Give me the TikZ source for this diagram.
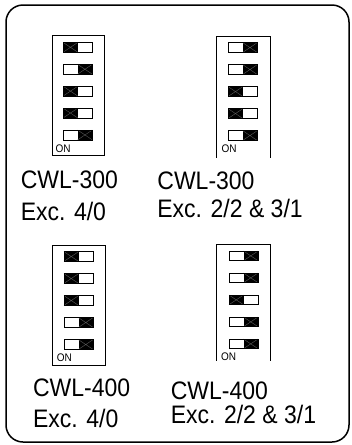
\documentclass[tikz,border=0pt]{standalone}
\usepackage{fontspec}
\setmainfont{Liberation Sans}
\usepackage{tikz}
\usetikzlibrary{positioning}
\usepackage{xcolor}
\definecolor{crossgray}{rgb}{0.35, 0.35, 0.35}

\begin{document}
\begin{tikzpicture}[
		x=1pt, y=-1pt,
		frame/.style={draw, line width=1.5pt, rounded corners=17pt},
		dipbox/.style={draw, line width=0.8pt, minimum width=52.5pt, minimum height=120pt, inner sep=0pt, anchor=north west},
		openbox/.style={dipbox, draw=none},
		knob/.style={fill=black},
		cross/.style={draw=crossgray, line width=0.4pt},
		slot/.style={draw=black, line width=0.6pt},
		lbl/.style={font=\fontsize{23}{28}\selectfont, anchor=base west, inner sep=0pt, yscale=1.1, transform shape},
		onlbl/.style={font=\fontsize{10}{10}\selectfont, anchor=base west, inner sep=0pt, yscale=1.1, transform shape}
	]
	\useasboundingbox (0,0) rectangle (352,445);
	\draw[frame] (6,5) rectangle (349,442);

	% CWL-300, Exc. 4/0
	\node[dipbox] (tl) at (51.7,35) {};
	\node[onlbl] (tlon) at ([xshift=3.6pt, yshift=3.4pt]tl.south west) {ON};
	\begin{scope}[shift={(tl.north west)}]
		\foreach \k [count=\i from 0] in {0,1,0,0,1} {
			\fill[knob] (11.5+14.5*\k, 7.5+21.9*\i) rectangle ++(14.5,9.7);
			\draw[cross] (11.5+14.5*\k, 7.5+21.9*\i) -- ++(14.5,9.7) ++(-14.5,0) -- ++(14.5,-9.7);
			\draw[slot] (11.5, 7.5+21.9*\i) rectangle ++(29,9.7);
		}
	\end{scope}
	\node[lbl] (tlmodel) at (20.6,188.3) {CWL-300};
	\node[lbl] (tlexc) at (20.6,220) {Exc. 4/0};

	% CWL-300, Exc. 2/2 & 3/1
	\node[openbox, minimum height=120.7pt] (tr) at (216.7,36) {};
	\draw[line width=0.8pt] (tr.south west) -- (tr.north west) -- (tr.north east) -- (tr.south east);
	\node[onlbl] (tron) at ([xshift=4.8pt, yshift=5pt]tr.south west) {ON};
	\begin{scope}[shift={(tr.north west)}]
		\foreach \k [count=\i from 0] in {1,1,0,0,1} {
			\fill[knob] (11.5+14.5*\k, 6.7+22*\i) rectangle ++(14.5,9.7);
			\draw[cross] (11.5+14.5*\k, 6.7+22*\i) -- ++(14.5,9.7) ++(-14.5,0) -- ++(14.5,-9.7);
			\draw[slot] (11.5, 6.7+22*\i) rectangle ++(29,9.7);
		}
	\end{scope}
	\node[lbl] (trmodel) at (157.2,189.5) {CWL-300};
	\node[lbl] (trexc) at (157.2,217) {Exc. 2/2 \& 3/1};

	% CWL-400, Exc. 4/0
	\node[dipbox] (bl) at (52.3,245) {};
	\node[onlbl] (blon) at ([xshift=4.3pt, yshift=4.3pt]bl.south west) {ON};
	\begin{scope}[shift={(bl.north west)}]
		\foreach \k [count=\i from 0] in {0,0,0,1,1} {
			\fill[knob] (11.7+14.5*\k, 6.7+22*\i) rectangle ++(14.5,9.7);
			\draw[cross] (11.7+14.5*\k, 6.7+22*\i) -- ++(14.5,9.7) ++(-14.5,0) -- ++(14.5,-9.7);
			\draw[slot] (11.7, 6.7+22*\i) rectangle ++(29,9.7);
		}
	\end{scope}
	\node[lbl] (blmodel) at (32.9,396.7) {CWL-400};
	\node[lbl] (blexc) at (32.9,427) {Exc. 4/0};

	% CWL-400, Exc. 2/2 & 3/1
	\node[openbox, minimum height=116pt] (br) at (216.7,244) {};
	\draw[line width=0.8pt] (br.south west) -- (br.north west) -- (br.north east) -- (br.south east);
	\node[onlbl] (bron) at ([xshift=4.3pt, yshift=0.5pt]br.south west) {ON};
	\begin{scope}[shift={(br.north west)}]
		\foreach \k [count=\i from 0] in {1,1,0,1,1} {
			\fill[knob] (12.3+14.5*\k, 7+22*\i) rectangle ++(14.5,9.7);
			\draw[cross] (12.3+14.5*\k, 7+22*\i) -- ++(14.5,9.7) ++(-14.5,0) -- ++(14.5,-9.7);
			\draw[slot] (12.3, 7+22*\i) rectangle ++(29,9.7);
		}
	\end{scope}
	\node[lbl] (brmodel) at (170.6,399.3) {CWL-400};
	\node[lbl] (brexc) at (170.6,423) {Exc. 2/2 \& 3/1};
\end{tikzpicture}
\end{document}
